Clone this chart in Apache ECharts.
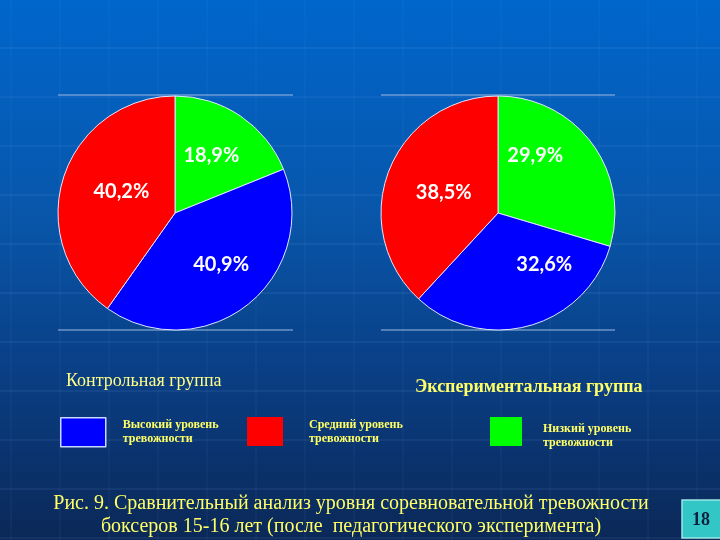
<!DOCTYPE html>
<html><head><meta charset="utf-8">
<script src="https://cdn.jsdelivr.net/npm/echarts@6/dist/echarts.min.js"></script>
<style>html,body{margin:0;padding:0;}#c{width:720px;height:540px;}</style>
</head><body><div id="c"></div>
<script>
var categories = ['Низкий уровень\nтревожности', 'Высокий уровень\nтревожности', 'Средний уровень\nтревожности'];
var colors = ['#00ff00', '#0000ff', '#ff0000'];
var controlValues = [18.9, 40.9, 40.2];
var experimentValues = [29.9, 32.6, 38.5];
var groupTitles = ['Контрольная группа', 'Экспериментальная группа'];
var captionText = 'Рис. 9. Сравнительный анализ уровня соревновательной тревожности\nбоксеров 15-16 лет (после  педагогического эксперимента)';
var pageNumber = '18';

// label nudges (styling only) to mimic the original label placement
var controlLabelNudge = [[2, -6], [8, 3], [5, -3]];
var experimentLabelNudge = [[-12, -21], [30, -8], [3, 2]];

function toData(vals, nudges) {
  return vals.map(function (v, i) {
    return { name: categories[i], value: v, itemStyle: { color: colors[i] },
      label: { offset: nudges[i] } };
  });
}

var pieLabel = {
  show: true, position: 'inside', color: '#ffffff',
  fontFamily: 'Lato', fontWeight: 'bold', fontSize: 20,
  formatter: function (p) { return String(p.value).replace('.', ',') + '%'; }
};

var gridLines = [];
for (var y = 48; y < 540; y += 49) {
  gridLines.push({ type: 'line', silent: true, z: -10,
    shape: { x1: 0, y1: y, x2: 720, y2: y },
    style: { stroke: 'rgba(140,190,255,0.16)', lineWidth: 1 } });
}
for (var x = 11; x < 720; x += 49) {
  gridLines.push({ type: 'line', silent: true, z: -10,
    shape: { x1: x, y1: 0, x2: x, y2: 540 },
    style: { stroke: 'rgba(140,190,255,0.09)', lineWidth: 1 } });
}

function legendText(padding) {
  return { color: '#ffff66', fontFamily: 'Liberation Serif', fontWeight: 'bold', fontSize: 12, lineHeight: 14, padding: padding,
    rich: { s: { height: 8, lineHeight: 8, fontSize: 1 } } };
}

var chart = echarts.init(document.getElementById('c'));
chart.setOption({
  backgroundColor: {
    type: 'linear', x: 0, y: 0, x2: 0, y2: 1,
    colorStops: [
      { offset: 0, color: '#0066cc' },
      { offset: 0.4, color: '#0856aa' },
      { offset: 0.72, color: '#0a3c80' },
      { offset: 1, color: '#0b2857' }
    ]
  },
  animation: false,
  title: [
    { text: groupTitles[0], left: 61, top: 367,
      textStyle: { color: '#ffff88', fontFamily: 'Liberation Serif', fontWeight: 'normal', fontSize: 18 } },
    { text: groupTitles[1], left: 410, top: 373,
      textStyle: { color: '#ffff66', fontFamily: 'Liberation Serif', fontWeight: 'bold', fontSize: 18 } },
    { text: captionText, left: 346, textAlign: 'center', top: 487,
      textStyle: { color: '#ffff66', fontFamily: 'Liberation Serif', fontWeight: 'normal', fontSize: 20, lineHeight: 23 } }
  ],
  legend: [
    { data: [{ name: categories[1], itemStyle: { borderColor: '#c8d8ff', borderWidth: 1.5 } }],
      left: 60, top: 417, padding: 0, icon: 'rect', itemWidth: 45, itemHeight: 29,
      textStyle: legendText([0, 0, 0, 12]), selectedMode: false },
    { data: [{ name: categories[2], itemStyle: { borderWidth: 0 } }],
      left: 247, top: 417, padding: 0, icon: 'rect', itemWidth: 36, itemHeight: 29,
      textStyle: legendText([0, 0, 0, 21]), selectedMode: false },
    { data: [{ name: categories[0], itemStyle: { borderWidth: 0 } }],
      left: 490, top: 413.5, padding: 0, icon: 'rect', itemWidth: 32, itemHeight: 29,
      formatter: function (name) { return '{s|}\n' + name; },
      textStyle: legendText([0, 0, 0, 16]), selectedMode: false }
  ],
  graphic: gridLines.concat([
    { type: 'line', shape: { x1: 58, y1: 95, x2: 293, y2: 95 }, style: { stroke: '#9fb8e0', lineWidth: 1 } },
    { type: 'line', shape: { x1: 58, y1: 330, x2: 293, y2: 330 }, style: { stroke: '#9fb8e0', lineWidth: 1 } },
    { type: 'line', shape: { x1: 381, y1: 95, x2: 615, y2: 95 }, style: { stroke: '#9fb8e0', lineWidth: 1 } },
    { type: 'line', shape: { x1: 381, y1: 330, x2: 615, y2: 330 }, style: { stroke: '#9fb8e0', lineWidth: 1 } },
    { type: 'rect', shape: { x: 682, y: 500, width: 40, height: 38 },
      style: { fill: '#33c6c6', stroke: '#99e6e6', lineWidth: 1.5 } },
    { type: 'text', x: 701, y: 520,
      style: { text: pageNumber, fill: '#0a1f3f', font: 'bold 18px "Liberation Serif"', align: 'center', verticalAlign: 'middle' } }
  ]),
  series: [
    { type: 'pie', name: groupTitles[0], center: [175, 213], radius: 117, startAngle: 90, clockwise: true,
      data: toData(controlValues, controlLabelNudge), label: pieLabel, labelLine: { show: false },
      itemStyle: { borderColor: '#e0e8ff', borderWidth: 1 }, emphasis: { disabled: true } },
    { type: 'pie', name: groupTitles[1], center: [498, 213], radius: 117, startAngle: 90, clockwise: true,
      data: toData(experimentValues, experimentLabelNudge), label: pieLabel, labelLine: { show: false },
      itemStyle: { borderColor: '#e0e8ff', borderWidth: 1 }, emphasis: { disabled: true } }
  ]
});
</script>
</body></html>
